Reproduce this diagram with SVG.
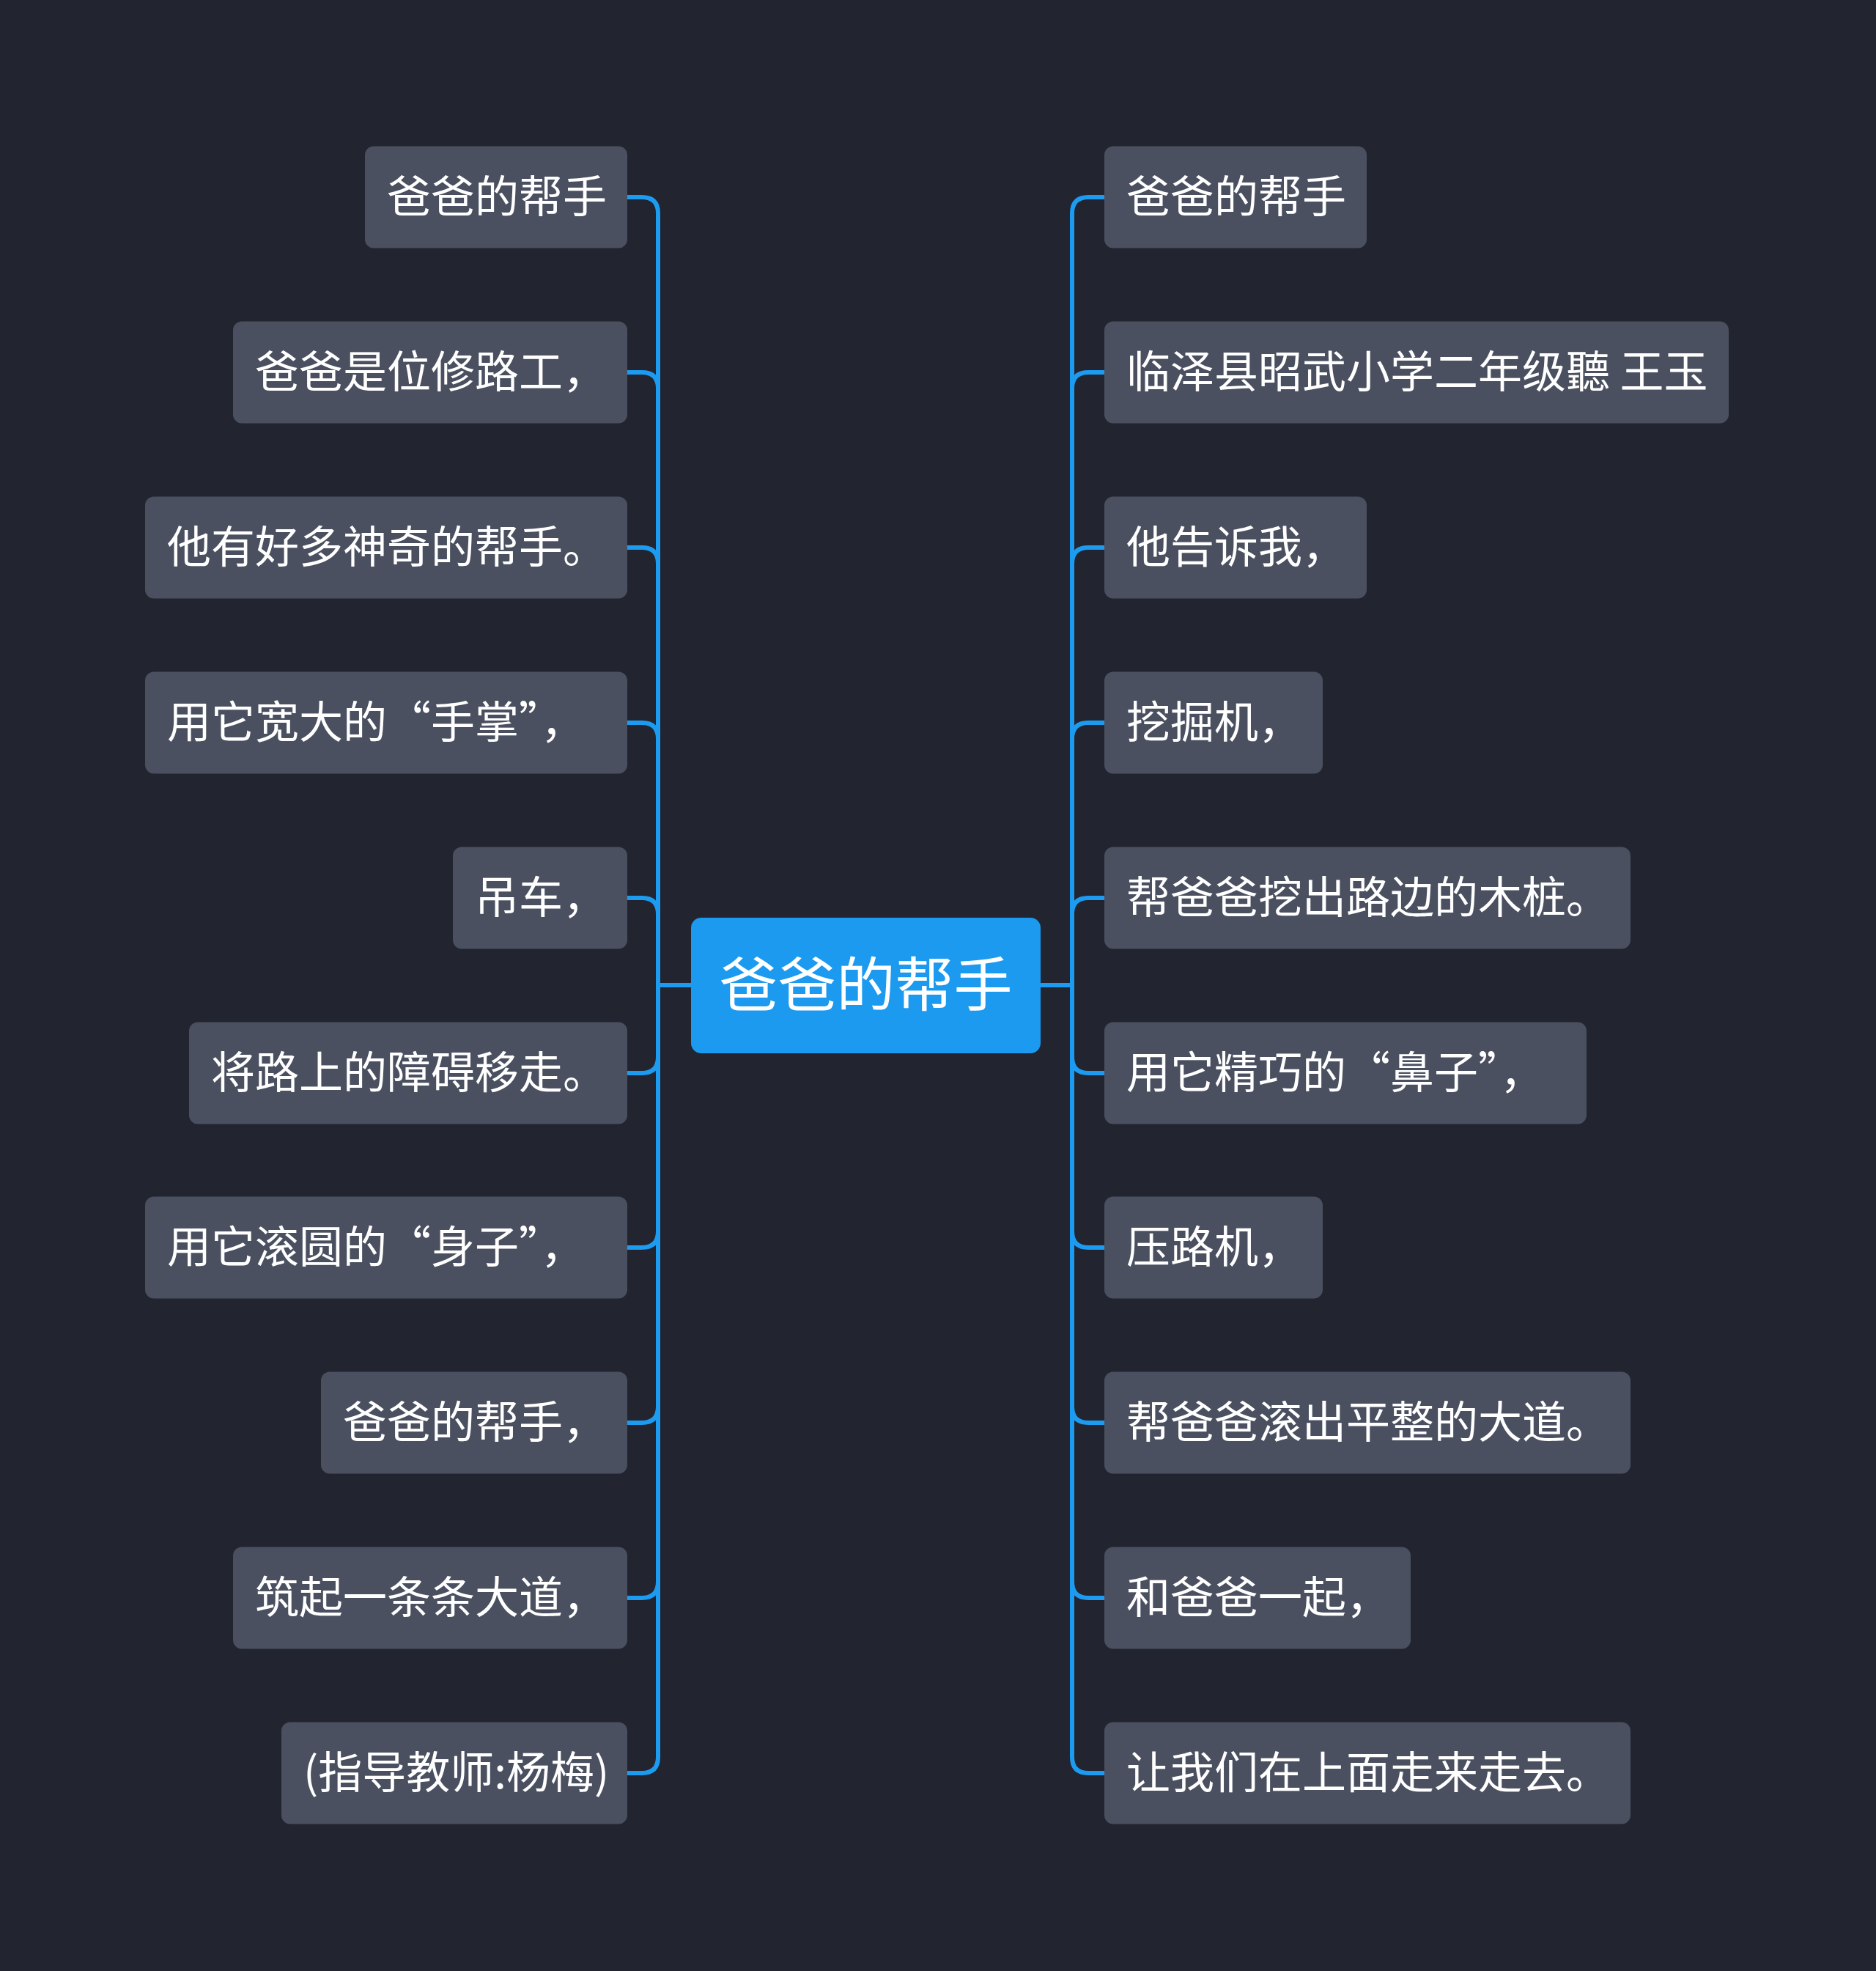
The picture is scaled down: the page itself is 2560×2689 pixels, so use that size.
<svg xmlns="http://www.w3.org/2000/svg" width="2560" height="2689" viewBox="0 0 2560 2689">
<style>
.bg{fill:#222530}
.node rect{fill:#4a5060}
.node text{font-family:"Noto Sans CJK SC","Noto Sans",sans-serif;font-size:60px;fill:#ffffff;text-anchor:start}
.q{font-feature-settings:"fwid" 1}
.root rect{fill:#1b9af0}
.root text{font-family:"Noto Sans CJK SC","Noto Sans",sans-serif;font-size:80px;fill:#ffffff;text-anchor:middle}
.links path{fill:none;stroke:#1d9bf0;stroke-width:6}
</style>
<rect class="bg" x="0" y="0" width="2560" height="2689"/>
<g class="links">
<path d="M943 1344H898V291Q898 269 876 269H856"/>
<path d="M943 1344H898V530Q898 508 876 508H856"/>
<path d="M943 1344H898V769Q898 747 876 747H856"/>
<path d="M943 1344H898V1008Q898 986 876 986H856"/>
<path d="M943 1344H898V1247Q898 1225 876 1225H856"/>
<path d="M943 1344H898V1442Q898 1464 876 1464H856"/>
<path d="M943 1344H898V1680Q898 1702 876 1702H856"/>
<path d="M943 1344H898V1919Q898 1941 876 1941H856"/>
<path d="M943 1344H898V2158Q898 2180 876 2180H856"/>
<path d="M943 1344H898V2397Q898 2419 876 2419H856"/>
<path d="M1420 1344H1463V291Q1463 269 1485 269H1507"/>
<path d="M1420 1344H1463V530Q1463 508 1485 508H1507"/>
<path d="M1420 1344H1463V769Q1463 747 1485 747H1507"/>
<path d="M1420 1344H1463V1008Q1463 986 1485 986H1507"/>
<path d="M1420 1344H1463V1247Q1463 1225 1485 1225H1507"/>
<path d="M1420 1344H1463V1442Q1463 1464 1485 1464H1507"/>
<path d="M1420 1344H1463V1680Q1463 1702 1485 1702H1507"/>
<path d="M1420 1344H1463V1919Q1463 1941 1485 1941H1507"/>
<path d="M1420 1344H1463V2158Q1463 2180 1485 2180H1507"/>
<path d="M1420 1344H1463V2397Q1463 2419 1485 2419H1507"/>
</g>
<g id="root" class="root"><rect x="943" y="1252" width="477" height="185" rx="14"/><text x="1181.5" y="1372">爸爸的帮手</text></g>
<g id="L1" class="node"><rect x="498" y="199.5" width="358" height="139" rx="12"/><text x="528" y="290">爸爸的帮手</text></g>
<g id="L2" class="node"><rect x="318" y="438.5" width="538" height="139" rx="12"/><text x="348" y="529">爸爸是位修路工，</text></g>
<g id="L3" class="node"><rect x="198" y="677.5" width="658" height="139" rx="12"/><text x="228" y="768">他有好多神奇的帮手。</text></g>
<g id="L4" class="node"><rect x="198" y="916.5" width="658" height="139" rx="12"/><text x="228" y="1007">用它宽大的<tspan class="q">“</tspan>手掌<tspan class="q">”</tspan>，</text></g>
<g id="L5" class="node"><rect x="618" y="1155.5" width="238" height="139" rx="12"/><text x="648" y="1246">吊车，</text></g>
<g id="L6" class="node"><rect x="258" y="1394.5" width="598" height="139" rx="12"/><text x="288" y="1485">将路上的障碍移走。</text></g>
<g id="L7" class="node"><rect x="198" y="1632.5" width="658" height="139" rx="12"/><text x="228" y="1723">用它滚圆的<tspan class="q">“</tspan>身子<tspan class="q">”</tspan>，</text></g>
<g id="L8" class="node"><rect x="438" y="1871.5" width="418" height="139" rx="12"/><text x="468" y="1962">爸爸的帮手，</text></g>
<g id="L9" class="node"><rect x="318" y="2110.5" width="538" height="139" rx="12"/><text x="348" y="2201">筑起一条条大道，</text></g>
<g id="L10" class="node"><rect x="384" y="2349.5" width="472" height="139" rx="12"/><text x="414" y="2440">(指导教师:杨梅)</text></g>
<g id="R1" class="node"><rect x="1507" y="199.5" width="358" height="139" rx="12"/><text x="1537" y="290">爸爸的帮手</text></g>
<g id="R2" class="node"><rect x="1507" y="438.5" width="852" height="139" rx="12"/><text x="1537" y="529">临泽县昭武小学二年级聽 王玉</text></g>
<g id="R3" class="node"><rect x="1507" y="677.5" width="358" height="139" rx="12"/><text x="1537" y="768">他告诉我，</text></g>
<g id="R4" class="node"><rect x="1507" y="916.5" width="298" height="139" rx="12"/><text x="1537" y="1007">挖掘机，</text></g>
<g id="R5" class="node"><rect x="1507" y="1155.5" width="718" height="139" rx="12"/><text x="1537" y="1246">帮爸爸挖出路边的木桩。</text></g>
<g id="R6" class="node"><rect x="1507" y="1394.5" width="658" height="139" rx="12"/><text x="1537" y="1485">用它精巧的<tspan class="q">“</tspan>鼻子<tspan class="q">”</tspan>，</text></g>
<g id="R7" class="node"><rect x="1507" y="1632.5" width="298" height="139" rx="12"/><text x="1537" y="1723">压路机，</text></g>
<g id="R8" class="node"><rect x="1507" y="1871.5" width="718" height="139" rx="12"/><text x="1537" y="1962">帮爸爸滚出平整的大道。</text></g>
<g id="R9" class="node"><rect x="1507" y="2110.5" width="418" height="139" rx="12"/><text x="1537" y="2201">和爸爸一起，</text></g>
<g id="R10" class="node"><rect x="1507" y="2349.5" width="718" height="139" rx="12"/><text x="1537" y="2440">让我们在上面走来走去。</text></g>
</svg>
